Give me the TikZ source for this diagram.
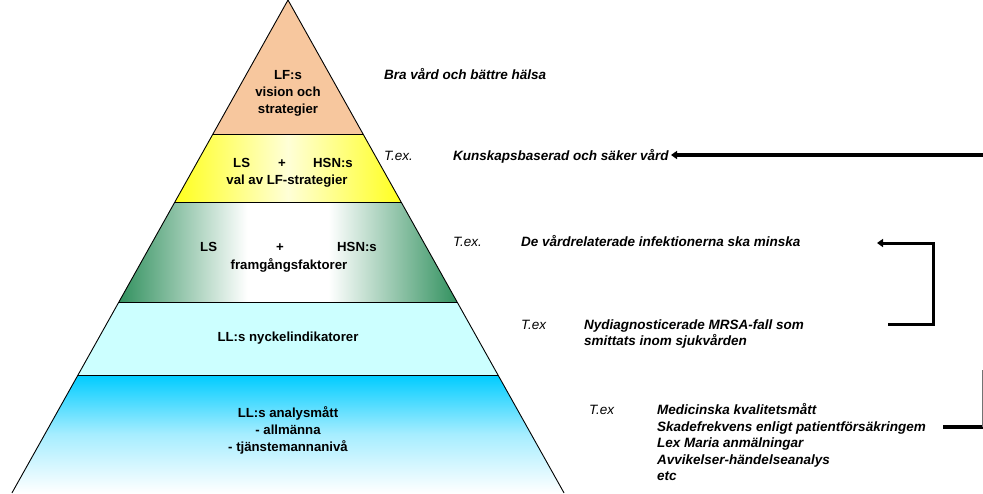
\documentclass[tikz,border=0pt]{standalone}
\usepackage{fontspec}
\setmainfont{Liberation Sans}
\usetikzlibrary{arrows.meta}
\definecolor{peach}{RGB}{247,199,158}
\definecolor{yel}{RGB}{255,255,30}
\definecolor{yelw}{RGB}{255,255,215}
\definecolor{grn}{RGB}{50,145,95}
\definecolor{cyanlt}{RGB}{204,255,255}
\definecolor{skyb}{RGB}{0,204,255}
\pgfdeclarehorizontalshading{greensh}{100bp}{color(0bp)=(grn); color(25bp)=(grn); color(44bp)=(white); color(56bp)=(white); color(75bp)=(grn); color(100bp)=(grn)}
\pgfdeclarehorizontalshading{yellowsh}{100bp}{color(0bp)=(yel); color(25bp)=(yel); color(50bp)=(yelw); color(75bp)=(yel); color(100bp)=(yel)}
\tikzset{
  pyr/.style={font=\fontsize{13.2}{15}\selectfont\bfseries, inner sep=0pt, anchor=base},
  lab/.style={font=\fontsize{13.5}{15}\selectfont\bfseries\itshape, inner sep=0pt, anchor=base west},
  tex/.style={font=\fontsize{13.5}{15}\selectfont\itshape, inner sep=0pt, anchor=base west},
  arr/.style={line width=3.6pt, -{Triangle[length=6pt,width=8pt]}},
  thick line/.style={line width=3.2pt}
}
\begin{document}
\begin{tikzpicture}[x=1pt,y=-1pt]
\useasboundingbox (0,0) rectangle (983,493);
% pyramid bands (left x = 288-0.56y, right x = 288+0.56y)
\fill[peach] (288,0) -- (363.04,134) -- (212.96,134) -- cycle;
\shade[shading=yellowsh] (212.96,134) -- (363.04,134) -- (401.12,202) -- (174.88,202) -- cycle;
\shade[shading=greensh] (174.88,202) -- (401.12,202) -- (457.12,302) -- (118.88,302) -- cycle;
\fill[cyanlt] (118.88,302) -- (457.12,302) -- (498,375) -- (78,375) -- cycle;
\shade[top color=skyb, bottom color=white, middle color={skyb!35!white}] (78,375) -- (498,375) -- (564.08,493) -- (11.92,493) -- cycle;
% outlines
\draw[line width=0.9pt] (11.92,493) -- (288,0) -- (564.08,493);
\draw[line width=1pt] (212.96,134) -- (363.04,134);
\draw[line width=1pt] (174.88,202) -- (401.12,202);
\draw[line width=1pt] (118.88,302) -- (457.12,302);
\draw[line width=1pt] (78,375) -- (498,375);
% pyramid texts
\node[pyr] (p1a) at (288,79) {LF:s};
\node[pyr] (p1b) at (288,96) {vision och};
\node[pyr] (p1c) at (288,113) {strategier};
\node[pyr, anchor=base west] (p2ls) at (233,167.5) {LS};
\node[pyr] (p2plus) at (282,167.5) {+};
\node[pyr, anchor=base east] (p2hsn) at (353,167.5) {HSN:s};
\node[pyr] (p2b) at (287,184.5) {val av LF-strategier};
\node[pyr, anchor=base west] (p3ls) at (200,251.5) {LS};
\node[pyr] (p3plus) at (280,251.5) {+};
\node[pyr, anchor=base east] (p3hsn) at (377,251.5) {HSN:s};
\node[pyr] (p3b) at (289,269.5) {framgångsfaktorer};
\node[pyr] (p4) at (288,341) {LL:s nyckelindikatorer};
\node[pyr] (p5a) at (288,417.5) {LL:s analysmått};
\node[pyr] (p5b) at (288,434.5) {- allmänna};
\node[pyr] (p5c) at (288,451.5) {- tjänstemannanivå};
% right texts
\node[lab] (r1) at (384,79.5) {Bra vård och bättre hälsa};
\node[tex] (t2) at (384,160.5) {T.ex.};
\node[lab] (r2) at (453,160.5) {Kunskapsbaserad och säker vård};
\node[tex] (t3) at (453,246.5) {T.ex.};
\node[lab] (r3) at (521,246.5) {De vårdrelaterade infektionerna ska minska};
\node[tex] (t4) at (521,329.5) {T.ex};
\node[lab] (r4a) at (584,329.5) {Nydiagnosticerade MRSA-fall som};
\node[lab] (r4b) at (584,345.5) {smittats inom sjukvården};
\node[tex] (t5) at (589,414.5) {T.ex};
\node[lab] (r5a) at (657,414.5) {Medicinska kvalitetsmått};
\node[lab] (r5b) at (657,431) {Skadefrekvens enligt patientförsäkringem};
\node[lab] (r5c) at (657,447.5) {Lex Maria anmälningar};
\node[lab] (r5d) at (657,464) {Avvikelser-händelseanalys};
\node[lab] (r5e) at (657,480.5) {etc};
% connectors
\coordinate (a1s) at (983,155);
\coordinate (a1e) at (671,155);
\draw[arr] (a1s) -- (a1e);
\coordinate (b1) at (888,324);
\coordinate (b2) at (933,324);
\coordinate (b3) at (933,243);
\coordinate (b4) at (877,243);
\draw[arr, line width=3pt] (b1) -- (b2) -- (b3) -- (b4);
\coordinate (c1) at (943,427);
\coordinate (c2) at (983,427);
\coordinate (c3) at (982.5,370);
\draw[thick line] (c1) -- (c2);
\draw[line width=0.8pt, black!55] (c3) -- (982.5,427);
\end{tikzpicture}
\end{document}
